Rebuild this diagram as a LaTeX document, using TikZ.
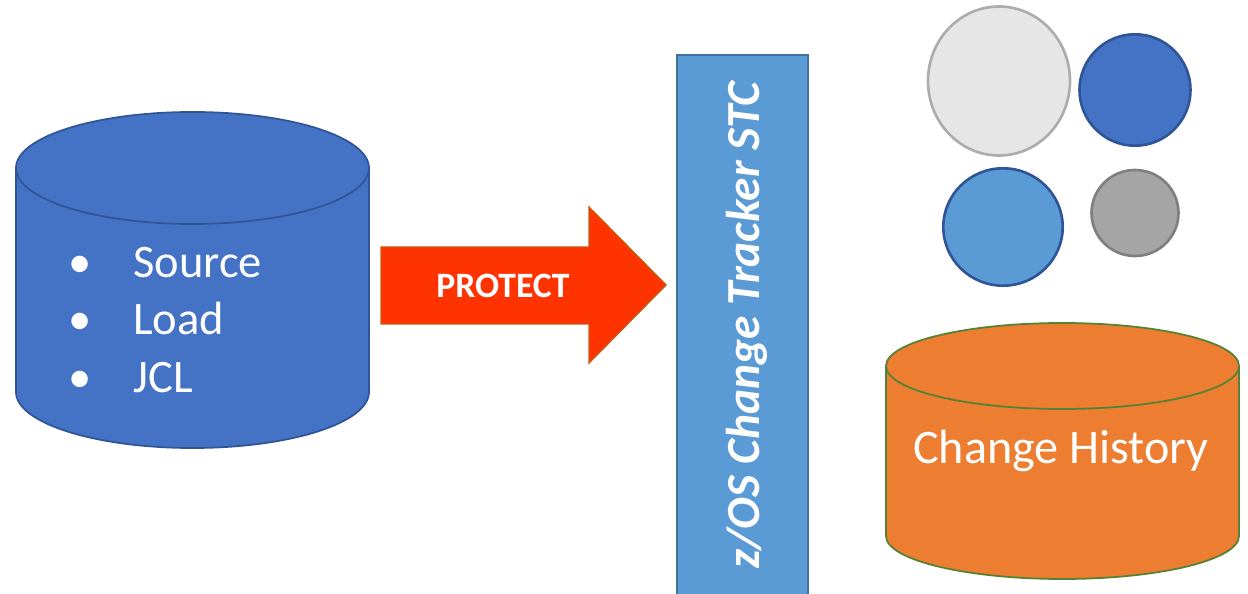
\documentclass[tikz,border=0pt]{standalone}
\usepackage{fontspec}
\setmainfont{Carlito}
\usetikzlibrary{calc}
\definecolor{blue1}{HTML}{4472C4}
\definecolor{blue1d}{HTML}{2F5597}
\definecolor{blue2}{HTML}{5B9BD5}
\definecolor{blue2d}{HTML}{41719C}
\definecolor{red1}{HTML}{FF3300}
\definecolor{red1d}{HTML}{C55A11}
\definecolor{orange1}{HTML}{ED7D31}
\definecolor{green1}{HTML}{548235}
\definecolor{gray1}{HTML}{E7E6E6}
\definecolor{gray1d}{HTML}{AFABAB}
\definecolor{gray2}{HTML}{A5A5A5}
\definecolor{gray2d}{HTML}{7F7F7F}

\begin{document}
\begin{tikzpicture}[x=0.02cm,y=-0.02cm,
    txt/.style={text=white,inner sep=0pt,font=\fontsize{26.5}{30}\selectfont},
    ball/.style={line width=1.5pt}]
    \useasboundingbox (0,0) rectangle (1248,594);

    % source cylinder
    \path[fill=blue1,draw=blue1d,line width=1pt] (192.5,392) ellipse (176.5 and 56);
    \path[fill=blue1] (16,168) rectangle (369,392);
    \draw[blue1d,line width=1pt] (16,168) -- (16,392) (369,168) -- (369,392);
    \path[fill=blue1,draw=blue1d,line width=1pt] (192.5,168) ellipse (176.5 and 56);
    \foreach \y/\w [count=\i] in {278/Source,335/Load,393/JCL}{
      \node[txt,anchor=base] (b\i) at (80,\y) {•};
      \node[txt,anchor=base west] (w\i) at (133,\y) {\w};
    }

    % protect arrow
    \path[fill=red1,draw=red1d,line width=0.8pt] (381,247) coordinate(a) -- (589,247) -- (589,207)
      -- (666,285) coordinate(tip) -- (589,363) -- (589,324) -- (381,324) -- cycle;
    \node[txt,anchor=base,font=\fontsize{20.3}{24}\selectfont\bfseries] (prot) at (503,298) {PROTECT};

    % tracker bar
    \path[fill=blue2,draw=blue2d,line width=1pt] (677,55) rectangle (808,600);
    \node[txt,anchor=base,rotate=90,font=\fontsize{27}{31}\selectfont\bfseries\itshape] (stc) at (759,325) {z/OS Change Tracker STC};

    % balls
    \path[ball,fill=gray1,draw=gray1d] (999,81) ellipse (71 and 74.5);
    \path[ball,fill=blue1,draw=blue1d] (1135,90) ellipse (55.5 and 55.7);
    \path[ball,fill=blue2,draw=blue1d] (1003,227) ellipse (59.7 and 58.7);
    \path[ball,fill=gray2,draw=gray2d] (1135,213) ellipse (43.5 and 43);

    % history cylinder
    \path[fill=orange1,draw=green1,line width=1pt] (1062.5,536) ellipse (176.5 and 43);
    \path[fill=orange1] (886,366) rectangle (1239,536);
    \draw[green1,line width=1pt] (886,366) -- (886,536) (1239,366) -- (1239,536);
    \path[fill=orange1,draw=green1,line width=1pt] (1062.5,366) ellipse (176.5 and 43);
    \node[txt,anchor=base,font=\fontsize{27.4}{31}\selectfont] (hist) at (1061,464) {Change History};
  \end{tikzpicture}
\end{document}
